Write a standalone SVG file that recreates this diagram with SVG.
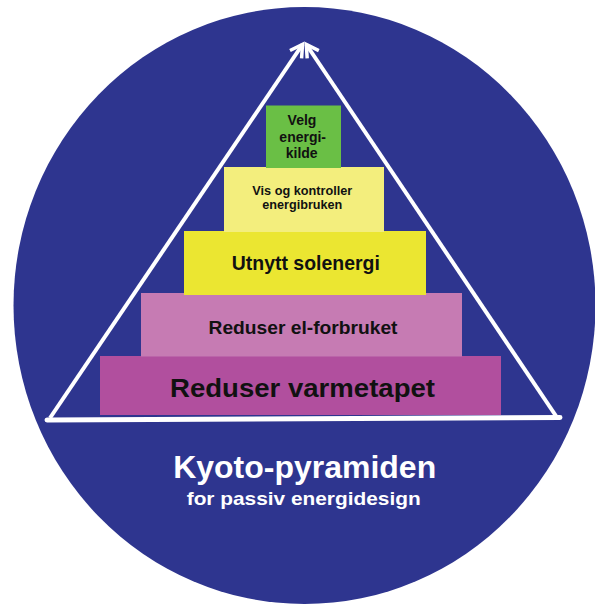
<svg xmlns="http://www.w3.org/2000/svg" width="595" height="605" viewBox="0 0 595 605">
  <defs>
    <style>
      .lbl { font-family: "Liberation Sans", Arial, Helvetica, sans-serif; font-weight: bold; fill: #111111; text-anchor: middle; }
      .ttl { font-family: "Liberation Sans", Arial, Helvetica, sans-serif; font-weight: bold; fill: #ffffff; text-anchor: middle; }
      .edge { stroke: #ffffff; stroke-width: 4; fill: none; }
    </style>
    <marker id="arrow" markerUnits="userSpaceOnUse" markerWidth="20" markerHeight="20" refX="0" refY="0" orient="auto" overflow="visible">
      <path d="M -12,-7 L 0,0 L -12,7" fill="none" stroke="#ffffff" stroke-width="3.5" stroke-linejoin="miter"/>
    </marker>
  </defs>

  <g id="background">
    <ellipse cx="304.5" cy="305.5" rx="291" ry="298.5" fill="#2e358f"/>
  </g>

  <g id="level-5">
    <rect x="100" y="356" width="401" height="59" fill="#b14f9e"/>
    <text class="lbl" x="302.5" y="397.3" font-size="26" textLength="265" lengthAdjust="spacingAndGlyphs">Reduser varmetapet</text>
  </g>
  <g id="level-4">
    <rect x="141" y="293" width="321" height="63.5" fill="#c67bb3"/>
    <text class="lbl" x="303" y="334.3" font-size="18" textLength="189" lengthAdjust="spacingAndGlyphs">Reduser el-forbruket</text>
  </g>
  <g id="level-3">
    <rect x="184" y="231" width="242" height="64" fill="#ebe631"/>
    <text class="lbl" x="305.8" y="270" font-size="20.5" textLength="148" lengthAdjust="spacingAndGlyphs">Utnytt solenergi</text>
  </g>
  <g id="level-2">
    <rect x="224" y="167" width="160" height="65" fill="#f3ee7d"/>
    <text class="lbl" x="302.3" y="195" font-size="12.7" textLength="100" lengthAdjust="spacingAndGlyphs">Vis og kontroller</text>
    <text class="lbl" x="302.3" y="209.3" font-size="12.7" textLength="80" lengthAdjust="spacingAndGlyphs">energibruken</text>
  </g>
  <g id="level-1">
    <rect x="266" y="105.5" width="75" height="62.5" fill="#6abf45"/>
    <text class="lbl" x="302" y="125" font-size="14">Velg</text>
    <text class="lbl" x="302.7" y="141.5" font-size="14">energi-</text>
    <text class="lbl" x="301.7" y="157.7" font-size="14">kilde</text>
  </g>

  <g id="connectors">
    <line class="edge" x1="50" y1="418" x2="302.5" y2="44.5" marker-end="url(#arrow)"/>
    <line class="edge" x1="556" y1="416" x2="306.3" y2="44.5" marker-end="url(#arrow)"/>
    <line x1="47" y1="420" x2="560" y2="417.5" stroke="#ffffff" stroke-width="5" stroke-linecap="round"/>
  </g>

  <g id="title">
    <text class="ttl" x="304.7" y="477.7" font-size="32" textLength="263" lengthAdjust="spacingAndGlyphs">Kyoto-pyramiden</text>
    <text class="ttl" x="303.7" y="505" font-size="19" textLength="234" lengthAdjust="spacingAndGlyphs">for passiv energidesign</text>
  </g>
</svg>
